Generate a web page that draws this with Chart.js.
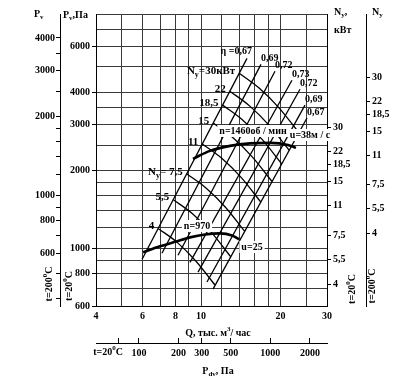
<!DOCTYPE html>
<html>
<head>
<meta charset="utf-8">
<script src="https://cdn.jsdelivr.net/npm/chart.js@4.4.0/dist/chart.umd.min.js"></script>
<style>
html,body{margin:0;padding:0;background:#fff}
</style>
</head>
<body>
<canvas id="c" width="400" height="386"></canvas>
<script>
// === data ===
const qTicks = [4,5,6,7,8,9,10,12,14,16,18,20,25,30];
const qLabels = [4,6,8,10,20,30];
const pTicks = [600,700,800,900,1000,1200,1400,1600,1800,2000,2500,3000,3500,4000,5000,6000,7000,8000];
const pLabels = [600,800,1000,2000,3000,4000,6000];
const p200Ticks = [400,500,600,700,800,900,1000,1200,1400,1600,1800,2000,2500,3000,3500,4000];
const p200Labels = [600,800,1000,2000,3000,4000];
const nTicks = [4,5.5,7.5,11,15,18.5,22,30];
const pdvTicks = [70,100,200,300,500,1000,2000];
const pdvLabels = [100,200,300,500,1000,2000];

// efficiency lines (Q thousand m3/h, Pv Pa): top and bottom ends
const etaNames = ['η =0,67','0,69','0,72','0,73','0,72','0,69','0,67'];
const etaTop = [[14.93,5397],[16.87,5119],[19.06,4812],[22.10,4445],[23.70,4105],[24.76,3565],[25.19,3180]];
const etaBottom = [[5.98,908],[7.11,958],[8.18,941],[9.08,884],[9.74,810],[10.53,742],[11.10,697]];

// power lines N_y, kW
const nNames = ['30','22','18,5','15','11','7,5','5,5','4'];
const nCurves = [
  [[13.95,4729],[16.59,4146],[19.74,3478],[23.48,2793]],
  [[12.85,4034],[15.27,3541],[18.15,2973],[21.57,2389]],
  [[12.07,3565],[14.33,3131],[17.03,2630],[20.22,2115]],
  [[11.12,3042],[13.19,2674],[15.66,2247],[18.58,1809]],
  [[10.11,2527],[11.98,2224],[14.21,1873],[16.84,1508]],
  [[8.82,1940],[10.44,1710],[12.37,1441],[14.64,1163]],
  [[7.84,1542],[9.28,1361],[10.96,1150],[12.95,929]],
  [[6.88,1194],[8.12,1055],[9.57,892],[11.30,722]]
];

// fan curves
const n1460Q = [9.32,10.81,12.87,15.32,18.24,21.35,22.89];
const n1460P = [2214,2376,2483,2538,2550,2505,2440];
const n970Q = [6.03,6.99,7.97,9.08,10.35,11.79,13.10,13.92];
const n970P = [966,1019,1060,1103,1132,1143,1122,1084];

// === helpers ===
const FONT = "'Liberation Serif','DejaVu Serif',serif";
const tickFont = {family: FONT, size: 10, weight: 'bold'};

function fixTicks(vals){ return s => { s.ticks = vals.map(v => ({value: v})); }; }
function fixSize(key, v){ return s => { s[key] = v; }; }
function comma(v){ return String(v).replace('.', ','); }

// parts: [text, kind] kind 0 normal, 1 subscript, 2 superscript
function rich(ctx, parts, x, y, align, size, bg){
  size = size || 10;
  const f = k => 'bold ' + (k ? Math.round(size*0.7) : size) + 'px ' + FONT;
  let w = 0;
  parts.forEach(p => { ctx.font = f(p[1]); w += ctx.measureText(p[0]).width; });
  let cx = align === 'center' ? x - w/2 : align === 'right' ? x - w : x;
  if(bg){ ctx.fillStyle = '#fff'; ctx.fillRect(cx-2, y-size/2-1, w+4, size+2); }
  ctx.fillStyle = '#000';
  ctx.textAlign = 'left'; ctx.textBaseline = 'middle';
  parts.forEach(p => {
    ctx.font = f(p[1]);
    const dy = p[1] === 1 ? size*0.35 : p[1] === 2 ? -size*0.4 : 0;
    ctx.fillText(p[0], cx, y + dy);
    cx += ctx.measureText(p[0]).width;
  });
}
function rotated(ctx, parts, x, y){
  ctx.save(); ctx.translate(x, y); ctx.rotate(-Math.PI/2);
  rich(ctx, parts, 0, 0, 'center');
  ctx.restore();
}

// === labels ===
const textPlugin = {
  id: 'texts',
  afterDraw(chart){
    const ctx = chart.ctx, sx = chart.scales.x, sy = chart.scales.y;
    const px = q => sx.getPixelForValue(q), py = p => sy.getPixelForValue(p);
    ctx.save();
    etaTop.forEach((t, i) => {
      if(i === 0) rich(ctx, [[etaNames[i],0]], px(t[0])+5, py(t[1])-7, 'right');
      else rich(ctx, [[etaNames[i],0]], px(t[0]), py(t[1])-6, 'left');
    });
    nCurves.forEach((c, i) => {
      const X = px(c[0][0]) - 4, Y = py(c[0][1]) - 2;
      if(i === 0) rich(ctx, [['N',0],['y',1],['=30кВт',0]], X, Y, 'right', 11);
      else if(i === 5) rich(ctx, [['N',0],['y',1],['= 7,5',0]], X, Y, 'right', 11);
      else rich(ctx, [[nNames[i],0]], X, Y, 'right', 11);
    });
    rich(ctx, [['n=1460об / мин',0]], 253, 131, 'center', 10, true);
    rich(ctx, [['u=38м / с',0]], 310, 135, 'center', 10, true);
    rich(ctx, [['n=970',0]], 197, 226, 'center', 10, true);
    rich(ctx, [['u=25',0]], 252, 247, 'center', 10, true);

    // axis titles
    rich(ctx, [['P',0],['v',1]], 34, 14, 'left');
    rich(ctx, [['P',0],['v',1],[',Па',0]], 63, 15, 'left');
    rich(ctx, [['N',0],['y',1],[',',0]], 334, 12, 'left');
    rich(ctx, [['кВт',0]], 334, 30, 'left');
    rich(ctx, [['N',0],['y',1]], 372, 12, 'left');
    rich(ctx, [['Q, тыс. м',0],['3',2],['/ час',0]], 218, 333, 'center');
    rich(ctx, [['P',0],['dv',1],[', Па',0]], 218, 371, 'center');
    rich(ctx, [['t=20',0],['0',2],['C',0]], 108, 352, 'center');
    rotated(ctx, [['t=200',0],['0',2],['C',0]], 49, 284);
    rotated(ctx, [['t=20',0],['0',2],['C',0]], 69, 286);
    rotated(ctx, [['t=20',0],['0',2],['C',0]], 352, 289);
    rotated(ctx, [['t=200',0],['0',2],['C',0]], 372, 286);
    ctx.restore();
  }
};

// === datasets ===
function line(points, width, curved){
  return {data: points, showLine: true, borderColor: '#000', borderWidth: width,
    pointRadius: 0, fill: false, cubicInterpolationMode: curved ? 'monotone' : 'default',
    xAxisID: 'x', yAxisID: 'y'};
}
const datasets = [];
etaTop.forEach((t, i) => datasets.push(line([{x: etaBottom[i][0], y: etaBottom[i][1]}, {x: t[0], y: t[1]}], 1.3)));
nCurves.forEach(c => datasets.push(line(c.map(p => ({x: p[0], y: p[1]})), 1.3, true)));
datasets.push(line(n1460Q.map((q, i) => ({x: q, y: n1460P[i]})), 2.6, true));
datasets.push(line(n970Q.map((q, i) => ({x: q, y: n970P[i]})), 2.6, true));

const gridCol = '#3a3a3a';
new Chart(document.getElementById('c'), {
  type: 'scatter',
  data: {datasets},
  options: {
    responsive: false, animation: false,
    layout: {padding: {top: 14, left: 0, right: 0, bottom: 0}},
    plugins: {legend: {display: false}, tooltip: {enabled: false}},
    scales: {
      x: {type: 'logarithmic', position: 'bottom', min: 4, max: 30, weight: 0,
        afterBuildTicks: fixTicks(qTicks), afterFit: fixSize('height', 37),
        grid: {color: gridCol, lineWidth: 1, drawTicks: false},
        border: {color: '#000', width: 1},
        ticks: {autoSkip: false, maxRotation: 0, padding: 4, color: '#000', font: tickFont,
          callback: v => qLabels.includes(v) ? String(v) : ''}},
      xdv: {type: 'logarithmic', position: 'bottom', min: 47.1, max: 2698, weight: 1,
        afterBuildTicks: fixTicks(pdvTicks), afterFit: fixSize('height', 43),
        grid: {drawOnChartArea: false, tickLength: -5, color: '#000'},
        border: {color: '#000', width: 1},
        ticks: {autoSkip: false, maxRotation: 0, padding: 9, color: '#000', font: tickFont,
          callback: v => pdvLabels.includes(v) ? String(v) : ''}},
      y: {type: 'logarithmic', position: 'left', min: 600, max: 8000, weight: 0,
        afterBuildTicks: fixTicks(pTicks), afterFit: fixSize('width', 36),
        grid: {color: gridCol, lineWidth: 1, tickLength: 4,
          tickColor: c => c.tick && pLabels.includes(c.tick.value) ? '#000' : 'rgba(0,0,0,0)'},
        border: {color: '#000', width: 1},
        ticks: {autoSkip: false, padding: 2, color: '#000', font: tickFont,
          callback: v => pLabels.includes(v) ? String(v) : ''}},
      y200: {type: 'logarithmic', position: 'left', min: 376, max: 4943, weight: 1,
        afterBuildTicks: fixTicks(p200Ticks), afterFit: fixSize('width', 60),
        grid: {drawOnChartArea: false, tickLength: 4, color: '#000'},
        border: {color: '#000', width: 1},
        ticks: {autoSkip: false, padding: 1, color: '#000', font: tickFont,
          callback: v => p200Labels.includes(v) ? String(v) : ''}},
      yN: {type: 'logarithmic', position: 'right', min: 3.03, max: 128, weight: 0,
        afterBuildTicks: fixTicks(nTicks), afterFit: fixSize('width', 39),
        grid: {drawOnChartArea: false, tickLength: 4, color: '#000'},
        border: {color: '#000', width: 1},
        ticks: {autoSkip: false, padding: 2, color: '#000', font: tickFont, callback: comma}},
      yN200: {type: 'logarithmic', position: 'right', min: 1.56, max: 68.3, weight: 1,
        afterBuildTicks: fixTicks(nTicks), afterFit: fixSize('width', 34),
        grid: {drawOnChartArea: false, tickLength: 4, color: '#000'},
        border: {color: '#000', width: 1},
        ticks: {autoSkip: false, padding: 2, color: '#000', font: tickFont, callback: comma}}
    }
  },
  plugins: [textPlugin]
});
</script>
</body>
</html>
